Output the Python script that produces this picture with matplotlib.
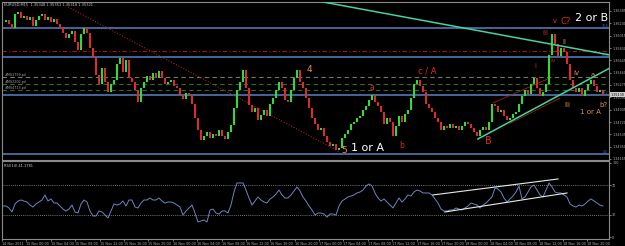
import matplotlib
matplotlib.use("Agg")
import matplotlib.pyplot as plt
import numpy as np

# ---------------- data ----------------
symbol_header = "EURUSD,M15  1.35348 1.35351 1.35318 1.35321"
rsi_header = "RSI(14) 41.1781"

closes = [
    1.3622, 1.3625, 1.3619, 1.3613, 1.3634, 1.3637, 1.3628, 1.3631, 1.3625, 1.3630,
    1.3616, 1.3625, 1.3631, 1.3634, 1.3625, 1.3630, 1.3622, 1.3627, 1.3619, 1.3615,
    1.3606, 1.3598, 1.3604, 1.3608, 1.3592, 1.3580, 1.3604, 1.3613, 1.3606, 1.3583,
    1.3568, 1.3543, 1.3529, 1.3553, 1.3532, 1.3517, 1.3529, 1.3535, 1.3559, 1.3568,
    1.3547, 1.3565, 1.3538, 1.3532, 1.3520, 1.3502, 1.3523, 1.3532, 1.3541, 1.3535,
    1.3546, 1.3538, 1.3549, 1.3538, 1.3529, 1.3532, 1.3535, 1.3526, 1.3523, 1.3513,
    1.3507, 1.3516, 1.3513, 1.3499, 1.3478, 1.3460, 1.3445, 1.3451, 1.3457, 1.3448,
    1.3454, 1.3451, 1.3460, 1.3451, 1.3447, 1.3457, 1.3468, 1.3493, 1.3520, 1.3532,
    1.3550, 1.3523, 1.3498, 1.3487, 1.3493, 1.3475, 1.3483, 1.3490, 1.3481, 1.3499,
    1.3508, 1.3520, 1.3532, 1.3523, 1.3505, 1.3502, 1.3520, 1.3538, 1.3550, 1.3532,
    1.3523, 1.3508, 1.3493, 1.3478, 1.3469, 1.3460, 1.3463, 1.3451, 1.3442, 1.3436,
    1.3439, 1.3430, 1.3433, 1.3448, 1.3454, 1.3460, 1.3469, 1.3472, 1.3478, 1.3481,
    1.3490, 1.3496, 1.3505, 1.3513, 1.3502, 1.3496, 1.3487, 1.3469, 1.3478, 1.3472,
    1.3451, 1.3466, 1.3481, 1.3472, 1.3484, 1.3490, 1.3508, 1.3529, 1.3535, 1.3526,
    1.3517, 1.3499, 1.3493, 1.3487, 1.3478, 1.3472, 1.3460, 1.3466, 1.3463, 1.3469,
    1.3463, 1.3466, 1.3460, 1.3466, 1.3472, 1.3469, 1.3463, 1.3457, 1.3451, 1.3460,
    1.3465, 1.3460, 1.3472, 1.3499, 1.3496, 1.3487, 1.3490, 1.3481, 1.3475, 1.3478,
    1.3484, 1.3487, 1.3499, 1.3511, 1.3520, 1.3514, 1.3529, 1.3538, 1.3523, 1.3511,
    1.3517, 1.3529, 1.3573, 1.3604, 1.3589, 1.3571, 1.3583, 1.3577, 1.3559, 1.3535,
    1.3523, 1.3517, 1.3523, 1.3511, 1.3520, 1.3529, 1.3535, 1.3526, 1.3517, 1.3520,
    1.3513,
]

rsi_values = [
    41.9, 41.9, 39.2, 33.8, 44.6, 48.6, 50.0, 48.6, 47.3, 43.2,
    40.5, 44.6, 47.3, 50.0, 56.8, 48.6, 51.4, 45.9, 45.9, 41.9,
    37.8, 35.1, 37.8, 43.2, 33.8, 32.4, 44.6, 50.0, 47.3, 35.1,
    28.4, 28.4, 35.1, 33.8, 29.7, 25.7, 35.1, 44.6, 43.2, 44.6,
    48.6, 41.9, 50.0, 50.0, 40.5, 39.2, 45.9, 50.0, 50.0, 52.7,
    50.0, 50.0, 52.7, 48.6, 45.9, 47.3, 47.3, 45.9, 43.2, 40.5,
    29.7, 35.1, 39.2, 43.2, 32.4, 20.3, 21.6, 23.0, 20.3, 36.5,
    37.8, 32.4, 31.1, 35.1, 35.1, 32.4, 43.2, 60.8, 73.0, 73.0,
    73.0, 63.5, 52.7, 43.2, 48.6, 54.1, 50.0, 47.3, 45.9, 51.4,
    54.1, 58.1, 63.5, 56.8, 52.7, 52.7, 56.8, 62.2, 67.6, 62.2,
    54.1, 48.6, 41.9, 36.5, 29.7, 32.4, 32.4, 31.1, 27.0, 31.1,
    31.1, 29.7, 41.9, 48.6, 51.4, 54.1, 55.4, 56.8, 59.5, 60.8,
    63.5, 68.9, 71.6, 68.9, 59.5, 52.7, 48.6, 51.4, 47.3, 43.2,
    39.2, 45.9, 52.7, 47.3, 51.4, 56.8, 55.4, 60.8, 63.5, 62.2,
    59.5, 59.5, 59.5, 56.8, 51.4, 45.9, 37.8, 35.1, 35.1, 36.5,
    36.5, 39.2, 37.8, 36.5, 39.2, 41.9, 45.9, 44.6, 43.2, 39.2,
    43.2, 45.9, 50.0, 54.1, 66.2, 64.9, 60.8, 52.7, 47.3, 51.4,
    55.4, 60.8, 68.9, 51.4, 54.1, 60.8, 67.6, 70.3, 63.5, 56.8,
    54.1, 63.5, 73.0, 67.6, 60.8, 59.5, 59.5, 56.8, 54.1, 44.6,
    41.9, 40.5, 43.2, 41.9, 44.6, 48.6, 51.4, 48.6, 45.9, 43.2,
    41.9,
]

time_labels = [
    "14 Nov 2011", "15 Nov 00:00", "15 Nov 04:00", "15 Nov 08:00", "15 Nov 12:00",
    "15 Nov 16:00", "15 Nov 20:00", "16 Nov 00:00", "16 Nov 04:00", "16 Nov 08:00",
    "16 Nov 12:00", "16 Nov 16:00", "16 Nov 20:00", "17 Nov 00:00", "17 Nov 04:00",
    "17 Nov 08:00", "17 Nov 12:00", "17 Nov 16:00", "17 Nov 20:00", "18 Nov 00:00",
    "18 Nov 04:00", "18 Nov 08:00", "18 Nov 12:00", "18 Nov 16:00", "18 Nov 20:00",
]

price_ticks = [1.36385, 1.36200, 1.36015, 1.35830, 1.35645, 1.35460, 1.35275,
               1.35090, 1.34905, 1.34720, 1.34535, 1.34350, 1.34165]

fib_levels = [1.36130, 1.35688, 1.35125, 1.34240]
fib_names = ["78.6", "61.8", "38.2", "0.0"]
resistance_dashdot = 1.35785
pivot_levels = [1.35395, 1.35290, 1.35200]
pivot_names = ["#MS3799.pd", "#MS2202.pd", "#MS4713.pd"]

# trendlines: (bar index, price) pairs
red_dotted_line = [(21.7, 1.36445), (112.3, 1.34270)]
falling_trend = [(106.7, 1.36520), (202.3, 1.35725)]
rising_trend = [(158.3, 1.34465), (202.3, 1.35530)]
channel_upper = [(163.3, 1.35005), (182.3, 1.35380)]
channel_lower = [(169.0, 1.34700), (185.7, 1.35080)]
rsi_channel_upper = [(143.3, 56.8), (185.0, 78.4)]
rsi_channel_lower = [(147.3, 33.8), (188.0, 59.5)]

# ---------------- figure ----------------
W, H = 625, 246
fig = plt.figure(figsize=(W / 100, H / 100), dpi=100, facecolor="black")
ax = fig.add_axes([2 / W, 1 - 160 / H, 607 / W, 158 / H], facecolor="black")
ax2 = fig.add_axes([2 / W, 1 - 239 / H, 607 / W, 78 / H], facecolor="black")

n = len(closes)
x = np.arange(n)
opens = np.array([closes[0]] + closes[:-1])
c = np.array(closes)
lo = np.minimum(opens, c)
hi = np.maximum(opens, c)
height = np.maximum(hi - lo, 0.00004)
cols = np.where(c >= opens, "#2be02b", "#e02a2a")
ax.bar(x, height, bottom=lo, width=0.8, color=cols, linewidth=0, zorder=3)

xmin, xmax = -0.33, 202.0
ax.set_xlim(xmin, xmax)
ax.set_ylim(1.3415, 1.3652)

# horizontal levels
for lvl in fib_levels:
    ax.axhline(lvl, color="#4b6ea8", lw=1.3, zorder=1)
ax.axhline(resistance_dashdot, color="#a01818", lw=0.8, ls=(0, (4, 2, 1, 2)), zorder=1)
ax.axhline(pivot_levels[0], color="#6d7d5c", lw=0.8, ls=(0, (4, 3)), zorder=1)
ax.axhline(pivot_levels[1], color="#2f6a2f", lw=0.8, ls=(0, (4, 3)), zorder=1)
ax.axhline(pivot_levels[2], color="#2f6a2f", lw=0.8, ls=(0, (4, 3)), zorder=1)
for lvl, name in zip(pivot_levels, pivot_names):
    ax.text(0.5, lvl + 0.00003, name, color="#a0a0a0", fontsize=2.4, va="bottom", ha="left")

for lvl, name in zip(fib_levels, fib_names):
    ax.text(201.7, lvl + 0.00002, name, color="#4b6ed0", fontsize=2.2, va="bottom", ha="right")

# trendlines
def seg(a, pts, **kw):
    (x0, y0), (x1, y1) = pts
    a.plot([x0, x1], [y0, y1], **kw)

seg(ax, red_dotted_line, color="#a02020", lw=0.8, ls=(0, (1, 1.5)), zorder=2)
seg(ax, falling_trend, color="#44d49c", lw=1.1, zorder=4)
seg(ax, rising_trend, color="#44d49c", lw=1.1, zorder=4)
seg(ax, channel_upper, color="#a02020", lw=0.6, zorder=2)
seg(ax, channel_lower, color="#a02020", lw=0.6, zorder=2)

# wave labels
orange = "#ff8a3c"
tan = "#e0904a"
red = "#e02626"
lbls = [
    (102.0, 1.35500, "4", orange, 6.5, "center"),
    (113.7, 1.34290, "5", orange, 6.5, "center"),
    (116.0, 1.34330, "1 or A", "white", 8, "left"),
    (123.0, 1.35245, "a", red, 5.5, "center"),
    (133.0, 1.34375, "b", red, 5.5, "center"),
    (138.3, 1.35485, "c / A", red, 6, "left"),
    (161.7, 1.34435, "B", red, 7, "center"),
    (177.3, 1.35560, "i", red, 5, "center"),
    (180.7, 1.36055, "iii", red, 5, "center"),
    (183.3, 1.35635, "iv", "#b02020", 4.5, "center"),
    (184.0, 1.36235, "v", red, 5, "center"),
    (187.7, 1.36235, "C?", red, 6, "center"),
    (190.8, 1.36275, "2 or B", "white", 8, "left"),
    (187.0, 1.35920, "ii", tan, 5, "center"),
    (191.3, 1.35455, "iv", tan, 5, "center"),
    (196.7, 1.35425, "a", tan, 5, "center"),
    (188.0, 1.34975, "iii", tan, 5, "center"),
    (192.3, 1.34870, "1 or A", tan, 5, "left"),
    (200.2, 1.34975, "b?", tan, 5, "center"),
]
for lx, ly, t, col, fs, ha in lbls:
    ax.text(lx, ly, t, color=col, fontsize=fs, ha=ha, va="center", zorder=6)

ax.text(0.5, 1.3647, symbol_header, color="#c8c8c8", fontsize=2.6, va="center", ha="left")

# axes styling main
ax.yaxis.tick_right()
ax.set_yticks(price_ticks)
ax.set_yticklabels([f"{p:.5f}" for p in price_ticks])
ax.tick_params(axis="y", colors="#b0b0b0", labelsize=2.4, length=1.5, width=0.5, pad=0.8)
ax.set_xticks([])
for s in ax.spines.values():
    s.set_color("#8a8a8a")
    s.set_linewidth(0.8)

# current price box
ax.text(1.003, (closes[-1] - 1.3415) / (1.3652 - 1.3415), f"{closes[-1]:.5f}",
        transform=ax.transAxes, fontsize=2.4, color="black", va="center", ha="left",
        bbox=dict(boxstyle="square,pad=0.15", fc="#d0d0d0", ec="none"), clip_on=False)

# ---------------- RSI ----------------
ax2.plot(x, rsi_values, color="#6a86c0", lw=0.7)
ax2.axhline(70, color="#9a9a9a", lw=0.6, ls=(0, (1, 1.5)))
ax2.axhline(30, color="#9a9a9a", lw=0.6, ls=(0, (1, 1.5)))
seg(ax2, rsi_channel_upper, color="#e8e8e8", lw=0.8)
seg(ax2, rsi_channel_lower, color="#e8e8e8", lw=0.8)
ax2.set_xlim(xmin, xmax)
ax2.set_ylim(-2.7, 102.7)
ax2.yaxis.tick_right()
ax2.set_yticks([0, 30, 70, 100])
ax2.tick_params(axis="y", colors="#b0b0b0", labelsize=2.4, length=1.5, width=0.5, pad=0.8)
ax2.text(0.5, 96, rsi_header, color="#c8c8c8", fontsize=2.6, va="center", ha="left")

tick_pos = np.arange(len(time_labels)) * 8.13 - 0.33
ax2.set_xticks(tick_pos)
ax2.set_xticklabels(time_labels, ha="left")
ax2.tick_params(axis="x", colors="#b0b0b0", labelsize=2.4, length=1.5, width=0.5, pad=0.5)
for s in ax2.spines.values():
    s.set_color("#8a8a8a")
    s.set_linewidth(0.8)

fig.savefig("out.png", dpi=100, facecolor="black")
